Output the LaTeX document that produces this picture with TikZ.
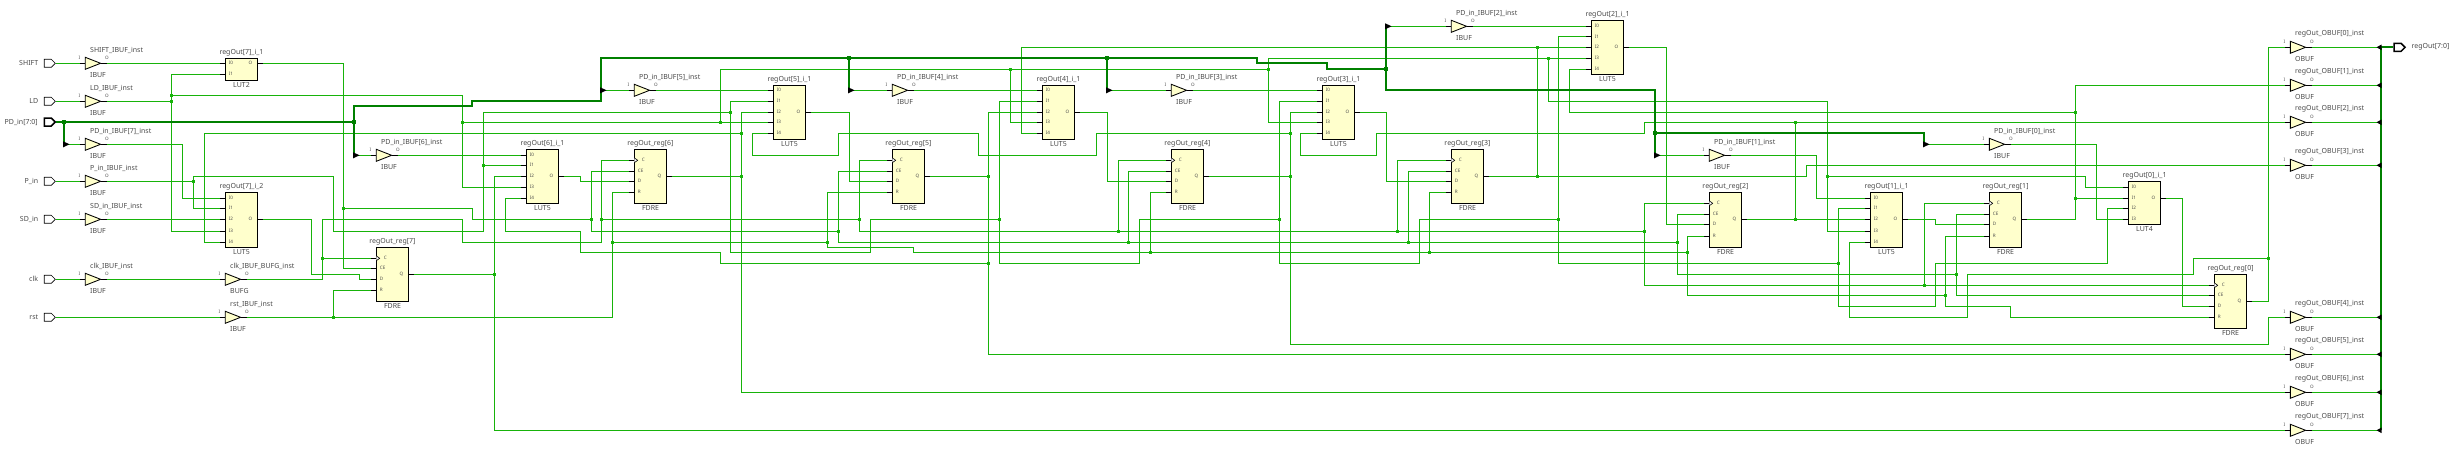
\documentclass[tikz,border=0pt]{standalone}
\usepackage{fontspec}
\setmainfont{Noto Sans}
\usetikzlibrary{positioning, shapes.geometric, shapes.symbols}
\definecolor{netgreen}{HTML}{17B30A}
\definecolor{busgreen}{HTML}{008000}
\definecolor{cellyellow}{HTML}{FFFFCC}
\definecolor{labelgray}{HTML}{4A4A4A}
\tikzset{
  net/.style={netgreen, line width=0.85pt},
  bus/.style={busgreen, line width=1.9pt},
  stub/.style={black, line width=0.85pt},
  jct/.style={fill=netgreen, rectangle, inner sep=0pt, minimum size=3.2pt},
  jctbus/.style={fill=busgreen, rectangle, inner sep=0pt, minimum size=4.4pt},
  cell/.style={draw=black, fill=cellyellow, line width=0.85pt, rectangle, inner sep=0pt, outer sep=0pt, minimum width=32.4pt},
  bufshape/.style={draw=black, fill=cellyellow, line width=0.85pt, isosceles triangle, isosceles triangle stretches, inner sep=0pt, outer sep=0pt, minimum width=12pt, minimum height=15.3pt, anchor=lower side},
  port/.style={draw=black, fill=white, line width=0.7pt, signal, signal to=east, signal from=nowhere, signal pointer angle=90, inner sep=0pt, minimum width=11pt, minimum height=8pt},
  busport/.style={port, line width=1.5pt},
  cellname/.style={labelgray, font=\fontsize{7}{8}\selectfont, inner sep=0pt},
  portname/.style={labelgray, font=\fontsize{7}{8}\selectfont, inner sep=0pt},
  pinname/.style={labelgray, font=\fontsize{4.6}{5}\selectfont, inner sep=0pt}
}
\def\pinC{C}
\newcommand{\cellblock}[9]{
  \node[cell, anchor=north west, minimum height=#4pt] at (#2,#3) (#1) {};
  \node[cellname, above=2.2pt of #1] (#1-name) {#5};
  \node[cellname, below=1.6pt of #1] (#1-type) {#6};
  \coordinate (#1-#7) at (#2+37.4,#8);
  \draw[stub] (#2+32.4,#8) -- (#1-#7);
  \node[pinname] at (#2+25,#8) (#1-l#7) {#7};
  \foreach \p/\y in {#9}{
    \coordinate (#1-\p) at (#2-5,\y);
    \draw[stub] (#1-\p) -- (#2,\y);
    \ifx\p\pinC
      \draw[black, fill=white, line width=0.6pt] (#2,\y-2.4) -- (#2+3.4,\y) -- (#2,\y+2.4);
      \def\o{7.4}
    \else
      \def\o{3.4}
    \fi
    \node[pinname, anchor=west] at (#2+\o,\y) (#1-l\p) {\p};
  }
}
\newcommand{\bufcell}[5]{
  \node[bufshape] at (#2,#3) (#1) {};
  \coordinate (#1-I) at (#2-5,#3);
  \coordinate (#1-O) at (#2+21.3,#3);
  \draw[stub] (#1-I) -- (#1.lower side);
  \draw[stub] (#1.apex) -- (#1-O);
  \node[pinname] at (#2-6,#3-5.3) (#1-lI) {I};
  \node[pinname] at (#2+21.7,#3-5.3) (#1-lO) {O};
  \node[cellname, anchor=west] at (#2+4.7,#3-13.3) (#1-name) {#4};
  \node[cellname, anchor=west] at (#2+4.7,#3+11.7) (#1-type) {#5};
}
\begin{document}
\begin{tikzpicture}[x=1pt,y=-1pt]
\useasboundingbox (0,0) rectangle (2452,458);

\foreach \n/\y/\t in {Shift/63.3/SHIFT,Ld/101.3/LD,P/181.3/P\_in,Sd/219.3/SD\_in,Clk/279.3/clk,Rst/317.3/rst}{
  \node[port] at (47.8,\y) (port\n) {};
  \node[portname, left=5.6pt of port\n] (port\n-name) {\t};
}
\node[busport] at (47.8,122) (portPd) {};
\node[portname, left=5.6pt of portPd] (portPd-name) {PD\_in[7:0]};
\node[busport] at (2397.5,47.3) (portOut) {};
\node[portname, right=5.3pt of portOut] (portOut-name) {regOut[7:0]};

\bufcell{ibShift}{85.3}{63.3}{SHIFT\_IBUF\_inst}{IBUF}
\bufcell{ibLd}{85.3}{101.3}{LD\_IBUF\_inst}{IBUF}
\bufcell{ibP}{85.3}{181.3}{P\_in\_IBUF\_inst}{IBUF}
\bufcell{ibSd}{85.3}{219.3}{SD\_in\_IBUF\_inst}{IBUF}
\bufcell{ibClk}{85.3}{279.3}{clk\_IBUF\_inst}{IBUF}
\bufcell{bufClk}{225.3}{279.3}{clk\_IBUF\_BUFG\_inst}{BUFG}
\bufcell{ibRst}{225.3}{317.3}{rst\_IBUF\_inst}{IBUF}
\foreach \n/\x/\y in {7/85.3/144.3,6/376.3/155.3,5/634.3/90.3,4/892.3/90.3,3/1171.3/90.3,2/1451.3/26.3,1/1709.3/155.3,0/1989.3/144.3}{
  \bufcell{ib\n}{\x}{\y}{PD\_in\_IBUF[\n]\_inst}{IBUF}
}
\foreach \n/\y in {0/47.3,1/85.3,2/122.3,3/165.3,4/317.3,5/354.3,6/392.3,7/430.3}{
  \bufcell{ob\n}{2290.3}{\y}{regOut\_OBUF[\n]\_inst}{OBUF}
  \coordinate (ripO\n) at (2380.7,\y);
}

\cellblock{lutS}{225.3}{58.7}{21.6}{regOut[7]\_i\_1}{LUT2}{O}{63.3}{I0/63.3,I1/74.3}
\cellblock{lutT}{225.3}{192.3}{55}{regOut[7]\_i\_2}{LUT5}{O}{219.3}{I0/198.3,I1/208.3,I2/219.3,I3/231.3,I4/242.3}
\cellblock{lut6}{526.3}{149.3}{54}{regOut[6]\_i\_1}{LUT5}{O}{176.3}{I0/155.3,I1/165.3,I2/176.3,I3/187.3,I4/198.3}
\foreach \n/\x in {5/773.3,4/1042.3,3/1322.3}{
  \cellblock{lut\n}{\x}{85.3}{54}{regOut[\n]\_i\_1}{LUT5}{O}{112.3}{I0/90.3,I1/101.3,I2/112.3,I3/122.3,I4/133.3}
}
\cellblock{lut2}{1591.3}{20.3}{54}{regOut[2]\_i\_1}{LUT5}{O}{47.3}{I0/26.3,I1/36.7,I2/47.3,I3/58.3,I4/69.3}
\cellblock{lut1}{1870.3}{192.3}{55}{regOut[1]\_i\_1}{LUT5}{O}{219.3}{I0/198.3,I1/208.3,I2/219.3,I3/231.3,I4/242.3}
\cellblock{lut0}{2128.3}{181.3}{43}{regOut[0]\_i\_1}{LUT4}{O}{198.3}{I0/187.3,I1/198.3,I2/208.3,I3/219.3}

\cellblock{ff7}{376.3}{247.3}{54.4}{regOut\_reg[7]}{FDRE}{Q}{274.3}{C/258.3,CE/268.3,D/279.3,R/290.3}
\foreach \n/\x in {6/634.3,5/892.3,4/1171.3,3/1451.3}{
  \cellblock{ff\n}{\x}{149.3}{54}{regOut\_reg[\n]}{FDRE}{Q}{176.3}{C/160.3,CE/171.3,D/181.3,R/192.3}
}
\cellblock{ff2}{1709.3}{192.3}{55}{regOut\_reg[2]}{FDRE}{Q}{219.3}{C/203.3,CE/214.3,D/224.3,R/236.3}
\cellblock{ff1}{1989.3}{192.3}{55}{regOut\_reg[1]}{FDRE}{Q}{219.3}{C/203.3,CE/214.3,D/224.3,R/236.3}
\cellblock{ff0}{2214.3}{274.3}{54.4}{regOut\_reg[0]}{FDRE}{Q}{301.3}{C/285.3,CE/295.3,D/306.3,R/317.3}

\foreach \n/\x/\y in {jLdA/171.3/95.3,jLdB/171.3/101.3,jLdC/462.3/122.3,jLdD/720.3/122.3,jLdE/1010.3/69.3,jLdF/1268.3/69.3,jLdG/1548.3/58.3,jLdH/1827.3/176.3,
  jPA/193.3/181.3,jPB/483.3/165.3,jPC/730.3/112.3,jPD/999.3/219.3,jPE/1279.3/219.3,jPF/1558.3/219.3,jPG/1838.3/263.3,
  jClkA/322.7/258.3,jClkB/601.3/219.3,jClkC/859.3/219.3,jClkD/1118.3/231.3,jClkE/1397.3/231.3,jClkF/1644.3/231.3,jClkG/1924.3/285.3,
  jCeA/343.3/208.3,jCeB/591.3/219.3,jCeC/838.3/231.3,jCeD/1128.3/242.3,jCeE/1408.3/242.3,jCeF/1677.3/242.3,jCeG/1956.3/274.3,
  jRstA/333.3/317.3,jRstB/612.3/242.3,jRstC/827.3/242.3,jRstD/1150.3/252.3,jRstE/1429.3/252.3,jRstF/1687.3/252.3,jRstG/1945.3/295.3,
  jQ7A/494.3/274.3,jQ6A/741.3/133.3,jQ6B/741.3/176.3,jQ5A/988.3/263.3,jQ5B/988.3/176.3,jQ4A/1290.3/133.3,jQ4B/1290.3/176.3,
  jQ3A/1537.3/47.3,jQ3B/1537.3/176.3,jQ2A/1795.3/122.3,jQ2B/1795.3/219.3,jQ1A/2075.3/112.3,jQ1B/2075.3/198.3,jQ0A/2268.3/258.3}{
  \node[jct] at (\x,\y) (\n) {};
}
\foreach \n/\x/\y in {jBusA/64/122,jBusB/354/122,jBusC/849/57.7,jBusD/1107/57.7,jBusE/1386/69,jBusF/1655/133}{
  \node[jctbus] at (\x,\y) (\n) {};
}
\foreach \n/\x/\y in {7/64/144.3,6/354/155.3,5/601/90.3,4/849/90.3,3/1107/90.3,2/1386/26.3,1/1655/155.3,0/1924/144.3}{
  \coordinate (rip\n) at (\x,\y);
}

\draw[net] (portShift.east) -- (ibShift-I);
\draw[net] (ibShift-O) -- (lutS-I0);
\draw[net] (portLd.east) -- (ibLd-I);
\draw[net] (ibLd-O) -- (jLdB);
\draw[net] (lutS-I1) -- (171.3,74.3) -- (171.3,231.3) -- (lutT-I3);
\draw[net] (jLdA.center) -- (462.3,95.3) -- (462.3,187.3) -- (lut6-I3);
\draw[net] (jLdC.center) -- (lut5-I3);
\draw[net] (jLdD.center) -- (720.3,69.3) -- (jLdF.center);
\draw[net] (jLdE.center) -- (1010.3,122.3) -- (lut4-I3);
\draw[net] (lut3-I3) -- (1268.3,122.3) -- (1268.3,58.3) -- (lut2-I3);
\draw[net] (jLdG.center) -- (1548.3,101.3) -- (1827.3,101.3) -- (1827.3,231.3) -- (lut1-I3);
\draw[net] (jLdH.center) -- (2085.3,176.3) -- (2085.3,187.3) -- (lut0-I0);

\draw[net] (portP.east) -- (ibP-I);
\draw[net] (ibP-O) -- (jPA);
\draw[net] (lutT-I1) -- (193.3,208.3) -- (193.3,176.3) -- (333.3,176.3) -- (333.3,231.3) -- (483.3,231.3) -- (483.3,112.3) -- (jPC.center);
\draw[net] (jPB.center) -- (lut6-I1);
\draw[net] (lut5-I1) -- (730.3,101.3) -- (730.3,252.3) -- (870.3,252.3) -- (870.3,219.3) -- (jPD.center);
\draw[net] (lut4-I1) -- (999.3,101.3) -- (999.3,263.3) -- (1139.3,263.3) -- (1139.3,219.3) -- (jPE.center);
\draw[net] (lut3-I1) -- (1279.3,101.3) -- (1279.3,263.3) -- (1419.3,263.3) -- (1419.3,219.3) -- (jPF.center);
\draw[net] (lut2-I1) -- (1558.3,36.7) -- (1558.3,263.3) -- (jPG.center);
\draw[net] (lut1-I1) -- (1838.3,208.3) -- (1838.3,306.3) -- (1935.3,306.3) -- (1935.3,263.3) -- (2107.3,263.3) -- (2107.3,208.3) -- (lut0-I2);

\draw[net] (portSd.east) -- (ibSd-I);
\draw[net] (ibSd-O) -- (lutT-I2);
\draw[net] (rip7) -- (ib7-I);
\draw[net] (ib7-O) -- (182.3,144.3) -- (182.3,198.3) -- (lutT-I0);

\draw[net] (portClk.east) -- (ibClk-I);
\draw[net] (ibClk-O) -- (bufClk-I);
\draw[net] (bufClk-O) -- (322.7,279.3) -- (322.7,219.3) -- (462.3,219.3) -- (462.3,242.3) -- (601.3,242.3) -- (601.3,160.3) -- (ff6-C);
\draw[net] (jClkA.center) -- (ff7-C);
\draw[net] (jClkB.center) -- (jClkC.center);
\draw[net] (ff5-C) -- (859.3,160.3) -- (859.3,231.3) -- (jClkF.center);
\draw[net] (jClkD.center) -- (1118.3,160.3) -- (ff4-C);
\draw[net] (jClkE.center) -- (1397.3,160.3) -- (ff3-C);
\draw[net] (ff2-C) -- (1644.3,203.3) -- (1644.3,285.3) -- (ff0-C);
\draw[net] (jClkG.center) -- (1924.3,203.3) -- (ff1-C);

\draw[net] (lutS-O) -- (343.3,63.3) -- (343.3,268.3) -- (ff7-CE);
\draw[net] (jCeA.center) -- (472.7,208.3) -- (472.7,219.3) -- (jCeB.center);
\draw[net] (ff6-CE) -- (591.3,171.3) -- (591.3,231.3) -- (jCeC.center);
\draw[net] (ff5-CE) -- (838.3,171.3) -- (838.3,242.3) -- (jCeF.center);
\draw[net] (jCeD.center) -- (1128.3,171.3) -- (ff4-CE);
\draw[net] (jCeE.center) -- (1408.3,171.3) -- (ff3-CE);
\draw[net] (ff2-CE) -- (1677.3,214.3) -- (1677.3,274.3) -- (jCeG.center);
\draw[net] (ff1-CE) -- (1956.3,214.3) -- (1956.3,295.3) -- (ff0-CE);

\draw[net] (portRst.east) -- (ibRst-I);
\draw[net] (ibRst-O) -- (612.3,317.3) -- (612.3,192.3) -- (ff6-R);
\draw[net] (jRstA.center) -- (333.3,290.3) -- (ff7-R);
\draw[net] (jRstB.center) -- (jRstC.center);
\draw[net] (ff5-R) -- (827.3,192.3) -- (827.3,247.3) -- (913.3,247.3) -- (913.3,252.3) -- (jRstF.center);
\draw[net] (jRstD.center) -- (1150.3,192.3) -- (ff4-R);
\draw[net] (jRstE.center) -- (1429.3,192.3) -- (ff3-R);
\draw[net] (ff2-R) -- (1687.3,236.3) -- (1687.3,295.3) -- (jRstG.center);
\draw[net] (ff1-R) -- (1945.3,236.3) -- (1945.3,306.3) -- (2010.3,306.3) -- (2010.3,317.3) -- (ff0-R);

\draw[net] (lutT-O) -- (311.3,219.3) -- (311.3,274.3) -- (359.3,274.3) -- (359.3,279.3) -- (ff7-D);
\draw[net] (lut6-O) -- (580.3,176.3) -- (580.3,181.3) -- (ff6-D);
\draw[net] (lut5-O) -- (849.3,112.3) -- (849.3,181.3) -- (ff5-D);
\draw[net] (lut4-O) -- (1107.3,112.3) -- (1107.3,181.3) -- (ff4-D);
\draw[net] (lut3-O) -- (1386.3,112.3) -- (1386.3,181.3) -- (ff3-D);
\draw[net] (lut2-O) -- (1666.3,47.3) -- (1666.3,224.3) -- (ff2-D);
\draw[net] (lut1-O) -- (1935.3,219.3) -- (1935.3,224.3) -- (ff1-D);
\draw[net] (lut0-O) -- (2182.3,198.3) -- (2182.3,306.3) -- (ff0-D);

\draw[net] (ff7-Q) -- (jQ7A.center);
\draw[net] (lut6-I2) -- (494.3,176.3) -- (494.3,430.3) -- (ob7-I);
\draw[net] (ff6-Q) -- (jQ6B.center);
\draw[net] (lut5-I2) -- (741.3,112.3) -- (741.3,392.3) -- (ob6-I);
\draw[net] (jQ6A.center) -- (204.3,133.3) -- (204.3,242.3) -- (lutT-I4);
\draw[net] (ff5-Q) -- (jQ5B.center);
\draw[net] (lut4-I2) -- (988.3,112.3) -- (988.3,354.3) -- (ob5-I);
\draw[net] (jQ5A.center) -- (720.3,263.3) -- (720.3,252.3) -- (580.3,252.3) -- (580.3,231.3) -- (505.3,231.3) -- (505.3,198.3) -- (lut6-I4);
\draw[net] (ff4-Q) -- (jQ4B.center);
\draw[net] (lut3-I2) -- (1290.3,112.3) -- (1290.3,344.3) -- (2268.3,344.3) -- (2268.3,317.3) -- (ob4-I);
\draw[net] (lut5-I4) -- (752.3,133.3) -- (752.3,155.3) -- (838.3,155.3) -- (838.3,133.3) -- (978.3,133.3) -- (978.3,155.3) -- (1096.3,155.3) -- (1096.3,133.3) -- (jQ4A.center);
\draw[net] (ff3-Q) -- (jQ3B.center) -- (1806.7,176.3) -- (1806.7,165.3) -- (ob3-I);
\draw[net] (jQ3A.center) -- (jQ3B.center);
\draw[net] (lut4-I4) -- (1021.3,133.3) -- (1021.3,47.3) -- (lut2-I2);
\draw[net] (ff2-Q) -- (lut1-I2);
\draw[net] (jQ2A.center) -- (jQ2B.center);
\draw[net] (lut3-I4) -- (1300.3,133.3) -- (1300.3,155.3) -- (1376.3,155.3) -- (1376.3,133.3) -- (1644.3,133.3) -- (1644.3,122.3) -- (ob2-I);
\draw[net] (ff1-Q) -- (2075.3,219.3) -- (2075.3,85.3) -- (ob1-I);
\draw[net] (jQ1A.center) -- (1569.3,112.3) -- (1569.3,69.3) -- (lut2-I4);
\draw[net] (jQ1B.center) -- (lut0-I1);
\draw[net] (ff0-Q) -- (2268.3,301.3) -- (2268.3,47.3) -- (ob0-I);
\draw[net] (jQ0A.center) -- (2193.3,258.3) -- (2193.3,274.3) -- (1967.3,274.3) -- (1967.3,317.3) -- (1849.3,317.3) -- (1849.3,242.3) -- (lut1-I4);

\draw[net] (ib6-O) -- (lut6-I0);
\draw[net] (ib5-O) -- (lut5-I0);
\draw[net] (ib4-O) -- (lut4-I0);
\draw[net] (ib3-O) -- (lut3-I0);
\draw[net] (ib2-O) -- (lut2-I0);
\draw[net] (ib1-O) -- (1816.3,155.3) -- (1816.3,198.3) -- (lut1-I0);
\draw[net] (ib0-O) -- (2096.3,144.3) -- (2096.3,219.3) -- (lut0-I3);
\foreach \n in {6,5,4,3,2,1,0}{
  \draw[net] (rip\n) -- (ib\n-I);
}
\foreach \n in {0,...,7}{
  \draw[net] (ob\n-O) -- (ripO\n);
}

\draw[bus] (portPd.east) -- (jBusB.center) -- (354,106) -- (472,106) -- (472,100.7) -- (601,100.7) -- (601,57.7) -- (1256.7,57.7) -- (1256.7,62.7) -- (1326.7,62.7) -- (1326.7,69) -- (jBusE.center);
\draw[bus] (jBusA.center) -- (rip7);
\draw[bus] (jBusB.center) -- (rip6);
\draw[bus] (601,70) -- (rip5);
\draw[bus] (jBusC.center) -- (rip4);
\draw[bus] (jBusD.center) -- (rip3);
\draw[bus] (jBusE.center) -- (rip2);
\draw[bus] (jBusE.center) -- (1386,89.7) -- (1655,89.7) -- (jBusF.center) -- (rip1);
\draw[bus] (jBusF.center) -- (1924,133) -- (rip0);
\draw[bus] (ripO0) -- (ripO7);
\draw[bus] (ripO0) -- (portOut.west);
\foreach \n in {7,...,0}{
  \fill[black] (rip\n) ++(-0.8,-3) -- ++(6.3,3) -- ++(-6.3,3) -- cycle;
}
\foreach \n in {0,...,7}{
  \fill[black] (ripO\n) ++(0.8,-2.8) -- ++(-5,2.8) -- ++(5,2.8) -- cycle;
}
\end{tikzpicture}
\end{document}
